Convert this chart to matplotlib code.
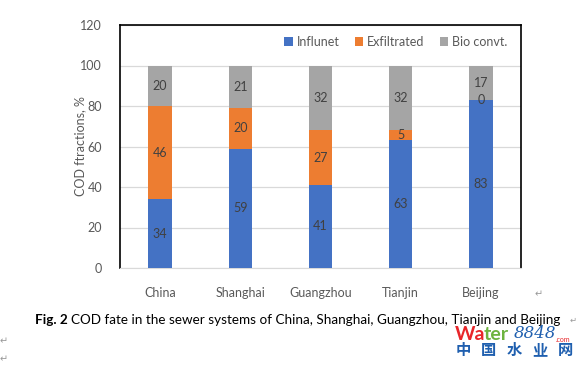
import matplotlib
matplotlib.use("Agg")
import matplotlib.pyplot as plt
import numpy as np

categories = ["China", "Shanghai", "Guangzhou", "Tianjin", "Beijing"]
influent = [34, 59, 41, 63, 83]
exfiltrated = [46, 20, 27, 5, 0]
bio_convt = [20, 21, 32, 32, 17]
series_names = ["Influnet", "Exfiltrated", "Bio convt."]
colors = ["#4472C4", "#ED7D31", "#A5A5A5"]
yticks = [0, 20, 40, 60, 80, 100, 120]
watermark_chars = ["中", "国", "水", "业", "网"]

plt.rcParams['font.family'] = ['Lato', 'DejaVu Sans']

fig = plt.figure(figsize=(5.82, 3.66), dpi=100)
ax = fig.add_axes([120/582, 1-268/366, 401/582, 243/366])

x = np.arange(len(categories))
w = 0.29
bottom = np.zeros(len(categories))
for vals, name, c in zip([influent, exfiltrated, bio_convt], series_names, colors):
    vals = np.array(vals, dtype=float)
    ax.bar(x, vals, w, bottom=bottom, color=c, label=name, zorder=3)
    for xi, b, v in zip(x, bottom, vals):
        ax.text(xi, b + v/2, f"{int(v)}", ha='center', va='center',
                fontsize=9, color='#404040', zorder=4)
    bottom += vals

ax.set_xlim(-0.5, 4.5)
ax.set_ylim(0, 120)
ax.set_yticks(yticks)
ax.set_xticks(x)
ax.set_xticklabels(categories)
ax.grid(axis='y', color='#D9D9D9', linewidth=0.9, zorder=0)
ax.tick_params(axis='both', length=0, labelsize=9, labelcolor='#595959')
ax.tick_params(axis='x', pad=14)
ax.tick_params(axis='y', pad=13)
for s in ['left', 'top', 'right']:
    ax.spines[s].set_color('black')
    ax.spines[s].set_linewidth(1.2)
ax.spines['bottom'].set_color('#D9D9D9')
ax.set_ylabel("COD ftractions, %", fontsize=9, color='#595959', labelpad=-4)

leg = ax.legend(loc='upper right', bbox_to_anchor=(0.985, 0.985), ncol=3, frameon=False,
                fontsize=9, handlelength=0.7, handleheight=0.7, handletextpad=0.3,
                columnspacing=1.2, borderaxespad=0.2)
for t in leg.get_texts():
    t.set_color('#595959')

# caption
cy = 1 - 320/366
fig.text(35/582, cy, "Fig. 2", fontsize=9.7, fontweight='bold', va='center', ha='left')
fig.text(71/582, cy, "COD fate in the sewer systems of China, Shanghai, Guangzhou, Tianjin and Beijing",
         fontsize=9.7, va='center', ha='left')
fig.text(570/582, cy, "\u21b5", fontsize=6, color='#999999', va='center', ha='left',
         family=['DejaVu Sans'])
fig.text(535/582, 1-294/366, "\u21b5", fontsize=7, color='#999999', va='center', ha='left',
         family=['DejaVu Sans'])
fig.text(0/582, 1-341/366, "\u21b5", fontsize=7, color='#999999', va='center', ha='left',
         family=['DejaVu Sans'])
fig.text(0/582, 1-359/366, "\u21b5", fontsize=7, color='#999999', va='center', ha='left',
         family=['DejaVu Sans'])

# watermark
wy = 1 - 334/366
fig.text(455/582, wy, "Wa", fontsize=14, fontweight='bold', color='#E8262A', va='center', ha='left')
fig.text(484/582, wy, "ter", fontsize=14, fontweight='bold', color='#6DB33F', va='center', ha='left')
fig.text(514/582, wy, "8848", fontsize=12, style='italic', color='#1F5FAF', va='center', ha='left',
         family=['DejaVu Serif'])
fig.text(556/582, 1-340/366, ".com", fontsize=5, color='#E8262A', va='center', ha='left')
for i, ch in enumerate(watermark_chars):
    fig.text((463 + i*25.5)/582, 1-350/366, ch, fontsize=11, fontweight='bold', color='#1F5FAF',
             va='center', ha='center', family=['Noto Sans CJK SC', 'DejaVu Sans'])

fig.savefig("out.png", dpi=100)
